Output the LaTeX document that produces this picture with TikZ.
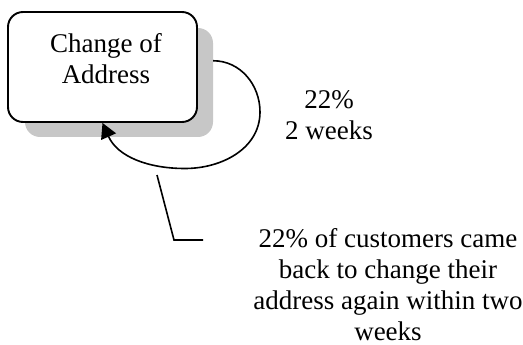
\documentclass[tikz,border=0pt]{standalone}
\usepackage{fontspec}
\setmainfont{Liberation Serif}
\usepackage{tikz}
\usetikzlibrary{positioning}
\usetikzlibrary{calc}
\usetikzlibrary{arrows.meta}

\tikzset{
  addrbox/.style={draw, line width=1.9pt, rounded corners=15pt, fill=white,
    minimum width=189pt, minimum height=110pt, inner sep=0pt},
  shadowbox/.style={fill=black!22, rounded corners=15pt,
    minimum width=188pt, minimum height=109pt, inner sep=0pt},
  loopline/.style={line width=1.6pt, -{Triangle[length=15pt,width=16pt]}},
  callout/.style={line width=1.6pt},
  bigtext/.style={font=\fontsize{27}{31}\selectfont, align=center, inner sep=0pt}
}

\begin{document}
\begin{tikzpicture}[x=1pt, y=1pt]
\useasboundingbox (0,0) rectangle (523,-345);
%%%%%%%%%%%%%%
\node[shadowbox] (boxshadow) at (119,-82.5) {};
\node[addrbox] (box) at (102.5,-67) {};
\node[bigtext] (boxtext) at (106,-58.3) {Change of\\Address};
%%%%%%%%%%%%%%
\coordinate (loopright) at (260,-112);
\coordinate (loopbottom) at (185,-168.5);
\node[bigtext] (looptext) at (329,-115) {22\%\\2 weeks};
%%%%%%%%%%%%%%
\node[bigtext] (notetext) at (388,-284.3) {22\% of customers came\\back to change their\\address again within two\\weeks};
\coordinate (calltop) at (157,-175);
\coordinate (callknee) at (174,-240);
\coordinate (callend) at (203,-240);
%%%%%%%%%%%%%%%%%%%%%%%%%%%%%%%%%%%%%%%%%%
\draw[loopline] (boxshadow.13) to[out=0,in=90] (loopright)
  to[out=-90,in=0] (loopbottom) to[out=180,in=-66] (box.south);
\draw[callout] (calltop) -- (callknee) -- (callend);
\end{tikzpicture}
\end{document}
